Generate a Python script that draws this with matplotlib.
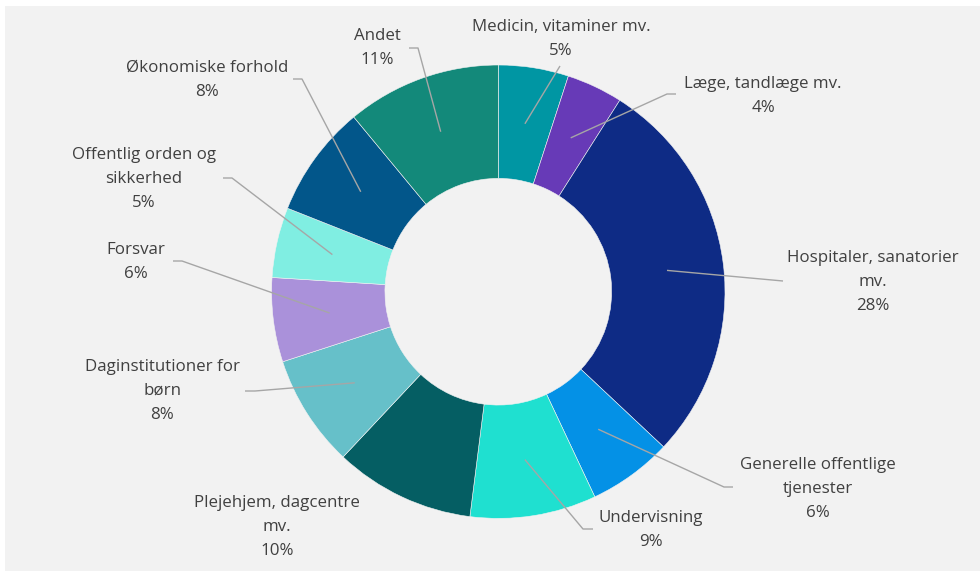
import numpy as np
import matplotlib
matplotlib.use("Agg")
import matplotlib.pyplot as plt
from matplotlib.patches import Rectangle

# Spending shares by function (percent)
categories = [
    "Medicin, vitaminer mv.",
    "Læge, tandlæge mv.",
    "Hospitaler, sanatorier\nmv.",
    "Generelle offentlige\ntjenester",
    "Undervisning",
    "Plejehjem, dagcentre\nmv.",
    "Daginstitutioner for\nbørn",
    "Forsvar",
    "Offentlig orden og\nsikkerhed",
    "Økonomiske forhold",
    "Andet",
]
shares = [5, 4, 28, 6, 9, 10, 8, 6, 5, 8, 11]
colors = [
    "#0096A3", "#673AB7", "#0E2B85", "#0491E6", "#1FE0D0", "#055E63",
    "#66C0C9", "#AA91DA", "#80EEE2", "#02568A", "#13897A",
]

W, H = 980, 571
fig = plt.figure(figsize=(W / 100, H / 100), dpi=100, facecolor="white")
fig.patches.append(Rectangle((5 / W, 0), 1, (H - 6) / H, transform=fig.transFigure,
                             facecolor="#F2F2F2", edgecolor="none", zorder=-10))
ax = fig.add_axes([0, 0, 1, 1])
ax.set_facecolor("none")
ax.set_zorder(1)

cx, cy = 498.3, H - 291.7
R = 226.7
ring = 0.5 * R

ax.pie(shares, colors=colors, startangle=90, counterclock=False,
       radius=R, center=(cx, cy),
       wedgeprops=dict(width=ring, edgecolor="#F2F2F2", linewidth=0.4))
ax.set_xlim(0, W)
ax.set_ylim(0, H)
ax.set_aspect("equal")
ax.axis("off")

# label layout: text centre (x, y from top), leader elbow points (from top)
label_pos = [
    (561, 39), (763, 96), (873, 282), (818, 489), (651, 530),
    (277, 527), (162, 391), (136, 262), (144, 179), (207, 80), (377, 48),
]
leaders = [
    [(560, 66)],
    [(676, 94), (667, 94)],
    [(783, 281)],
    [(733, 487), (724, 487)],
    [(593, 529), (583, 529)],
    None,
    [(245, 391), (255, 391)],
    [(173, 261), (182, 261)],
    [(223, 178), (232, 178)],
    [(293, 79), (302, 79)],
    [(409, 48), (418, 48)],
]

total = sum(shares)
cum = np.cumsum([0] + shares[:-1])
r_mid = R - ring / 2
for i, (name, v) in enumerate(zip(categories, shares)):
    mid = (cum[i] + v / 2) / total * 360
    ang = np.deg2rad(90 - mid)
    px, py = cx + r_mid * np.cos(ang), cy + r_mid * np.sin(ang)
    if leaders[i] is not None:
        pts = [(x, H - y) for x, y in leaders[i]] + [(px, py)]
        ax.plot([p[0] for p in pts], [p[1] for p in pts], color="#A6A6A6",
                lw=1.0, solid_capstyle="butt", zorder=5)
    tx, ty = label_pos[i]
    ax.text(tx, H - ty, f"{name}\n{v}%", ha="center", va="center",
            fontsize=12.2, color="#404040", family=["Open Sans", "DejaVu Sans"],
            linespacing=1.65, zorder=6)

fig.savefig("out.png", dpi=100, facecolor=fig.get_facecolor())
